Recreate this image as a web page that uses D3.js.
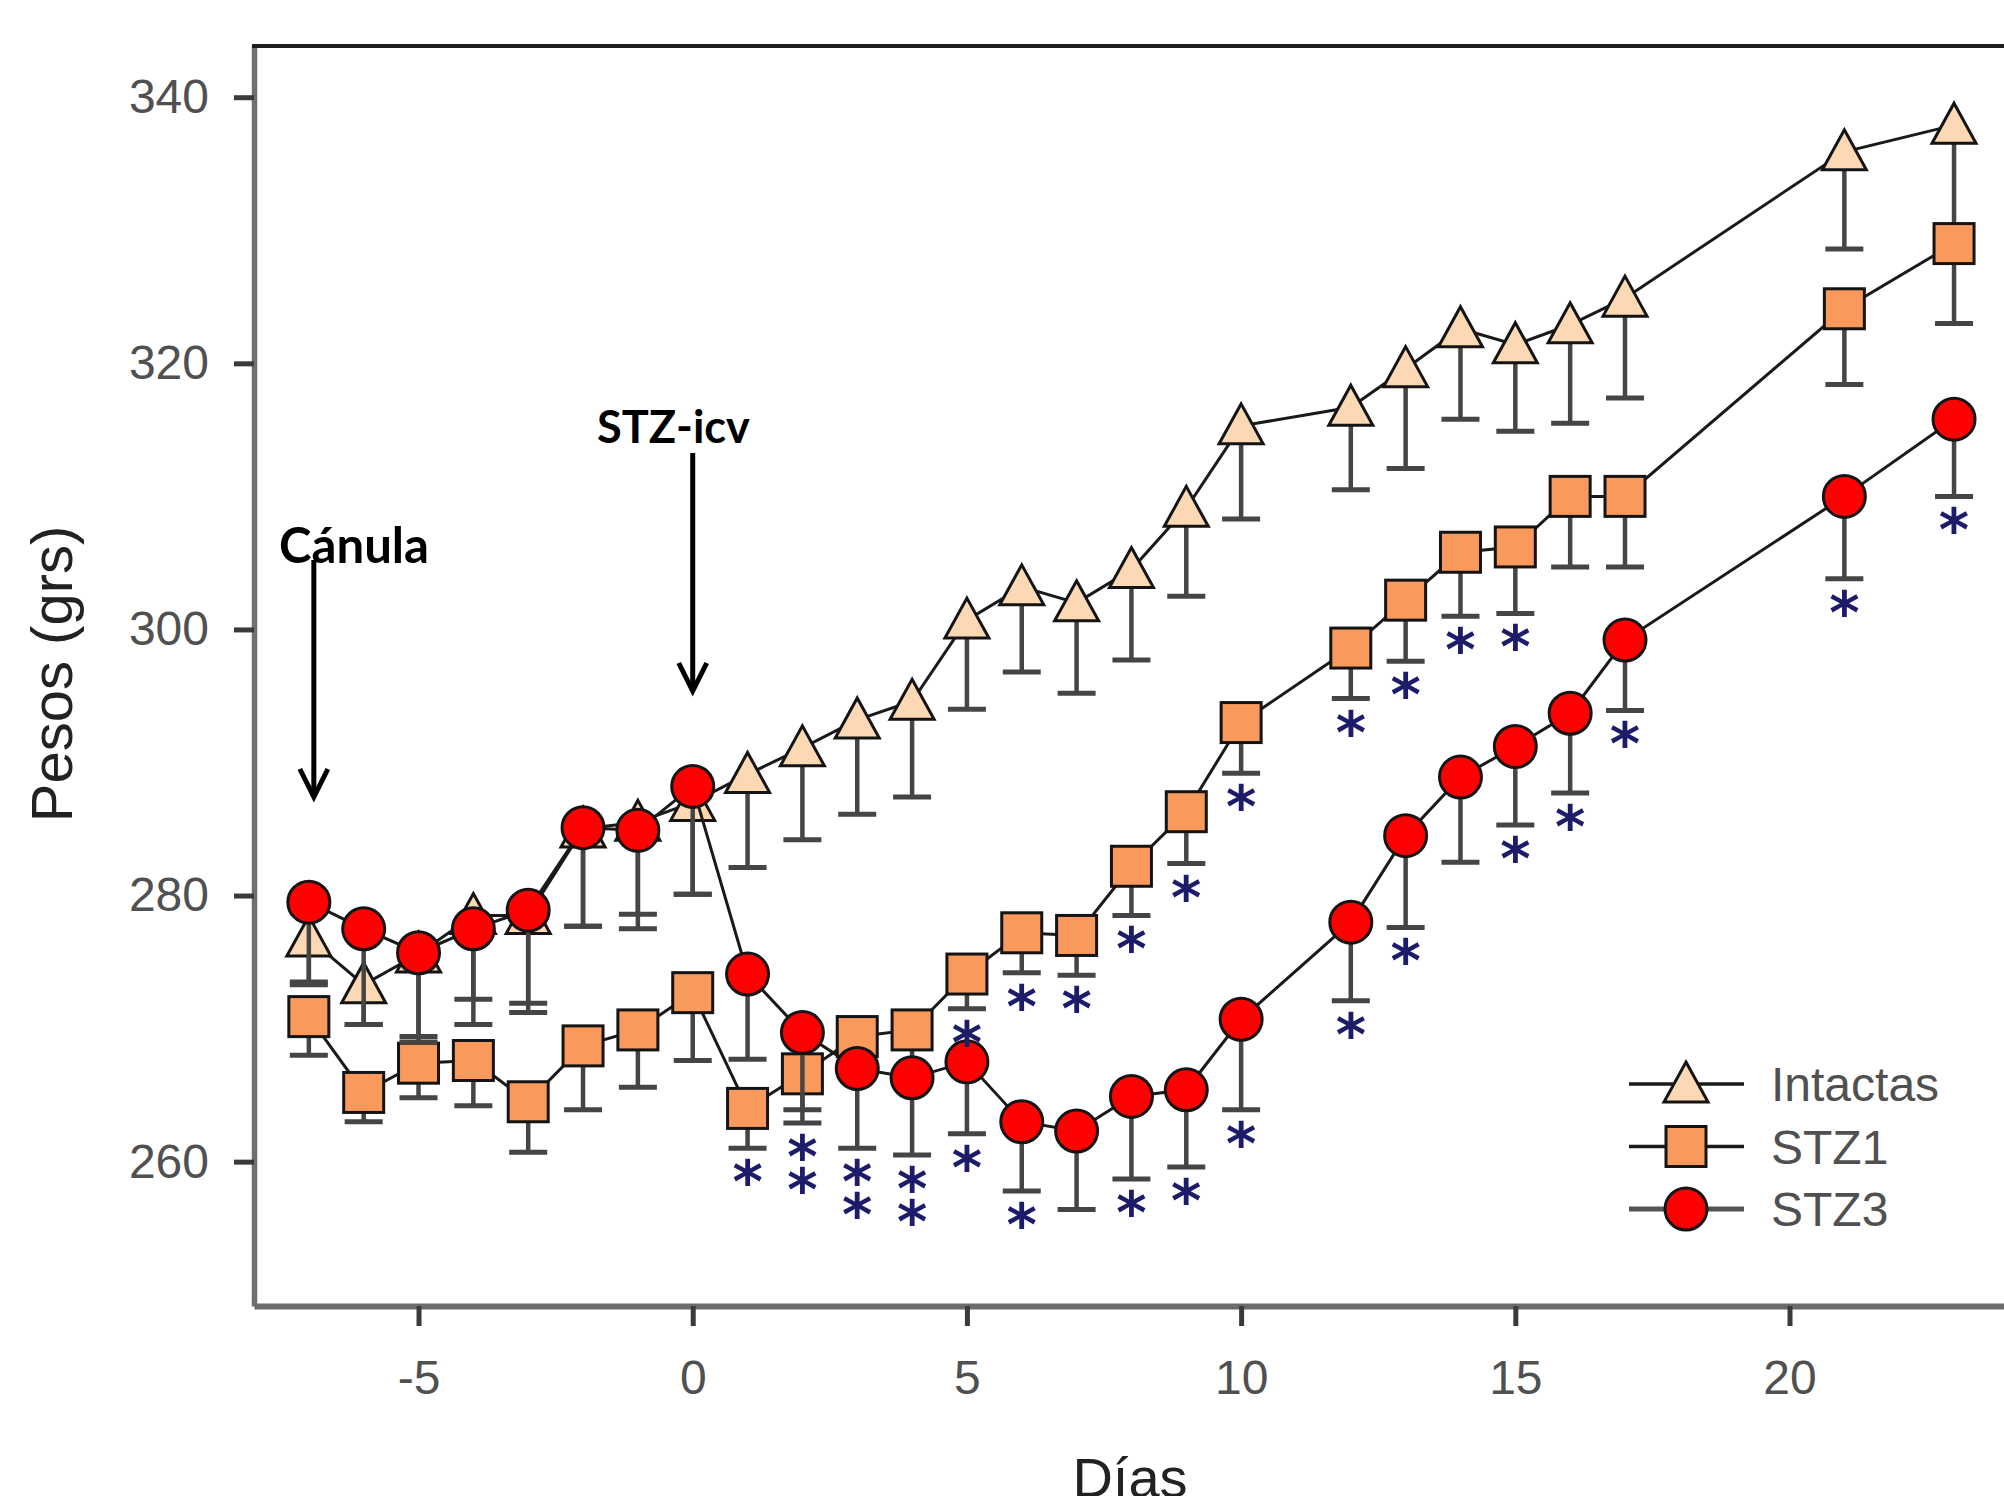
<!DOCTYPE html>
<html>
<head>
<meta charset="utf-8">
<script src="https://cdn.jsdelivr.net/npm/d3@7/dist/d3.min.js"></script>
<style>
html, body { margin:0; padding:0; background:#ffffff; overflow:hidden; }
svg { display:block; }
</style>
</head>
<body>
<svg id="chart" width="2004" height="1496" xmlns="http://www.w3.org/2000/svg"></svg>
<script>
// ---------------- data ----------------
const days = [-7,-6,-5,-4,-3,-2,-1,0,1,2,3,4,5,6,7,8,9,10,12,13,14,15,16,17,21,23];

const intactasMean = [276.8,273.3,275.6,278.5,278.5,285.0,285.5,287.0,289.1,291.1,293.2,294.6,300.7,303.2,302.0,304.5,309.1,315.3,316.7,319.6,322.6,321.4,322.9,324.9,335.9,337.9];
const intactasSE   = [3.5,3.0,6.2,8.2,7.3,7.3,8.0,6.9,7.0,6.9,7.1,7.2,6.7,6.4,6.8,6.8,6.6,7.0,6.2,7.5,6.8,6.5,7.4,7.5,7.3,7.9];

const stz1Mean = [270.9,265.2,267.4,267.6,264.5,268.7,269.9,272.7,264.0,266.6,269.4,269.9,274.1,277.2,277.0,282.2,286.3,293.0,298.6,302.2,305.8,306.2,310.0,310.0,324.1,329.0];
const stz1SE   = [2.9,2.2,2.6,3.4,3.8,4.8,4.3,5.1,3.0,2.7,2.9,3.1,2.6,3.0,3.0,3.7,3.9,3.8,3.8,4.6,4.8,5.0,5.3,5.3,5.7,6.0];

const stz3Mean = [279.5,277.5,275.7,277.5,278.9,285.1,284.9,288.2,274.1,269.7,267.0,266.3,267.5,263.0,262.3,264.9,265.4,270.7,278.0,284.5,288.9,291.2,293.7,299.2,310.0,315.8];
const stz3SE   = [6.0,7.2,6.7,5.3,7.0,7.4,6.3,8.1,6.4,6.8,6.0,5.8,5.4,5.2,5.9,6.2,5.8,6.8,5.9,6.9,6.4,5.9,6.0,5.3,6.2,5.8];

// days marked with * (significant vs Intactas)
const stz1Sig = [1,2,3,4,5,6,7,8,9,10,12,13,14,15];
const stz3Sig = [2,3,4,5,6,8,9,10,12,13,15,16,17,21,23];

const seriesNames = ["Intactas", "STZ1", "STZ3"];
const xTicks = [-5, 0, 5, 10, 15, 20];
const yTicks = [260, 280, 300, 320, 340];
const xTitle = "Días";
const yTitle = "Pesos (grs)";
const annotations = [{label:"Cánula", day:-7}, {label:"STZ-icv", day:0}];

// ---------------- setup ----------------
const svg = d3.select("#chart");
svg.append("rect").attr("width", 2004).attr("height", 1496).attr("fill", "#ffffff");

const x = d3.scaleLinear().domain([-8, 25]).range([254, 254 + 33 * 54.84]);
const y = d3.scaleLinear().domain([249.15, 343.85]).range([1306, 46]);

const numFont = "'Liberation Sans', Arial, Helvetica, sans-serif";

// ---------------- axes ----------------
const gy = svg.append("g").attr("transform", "translate(254,0)")
  .call(d3.axisLeft(y).tickValues(yTicks).tickSize(20).tickSizeOuter(0).tickPadding(25).tickFormat(d => String(d)));
gy.select(".domain").attr("stroke", "#707070").attr("stroke-width", 5.5);
gy.selectAll(".tick line").attr("stroke", "#3a3a3a").attr("stroke-width", 5);
gy.selectAll(".tick text").attr("font-family", numFont).attr("font-size", 48).attr("fill", "#505050");

const gx = svg.append("g").attr("transform", "translate(0,1306)")
  .call(d3.axisBottom(x).tickValues(xTicks).tickSize(20).tickSizeOuter(0).tickPadding(34).tickFormat(d => String(d)));
gx.select(".domain").attr("stroke", "#6b6b6b").attr("stroke-width", 6);
gx.selectAll(".tick line").attr("stroke", "#3a3a3a").attr("stroke-width", 5);
gx.selectAll(".tick text").attr("font-family", numFont).attr("font-size", 48).attr("fill", "#505050");

// top frame line
svg.append("line").attr("x1", 252).attr("x2", 2010).attr("y1", 46).attr("y2", 46)
  .attr("stroke", "#1e1e1e").attr("stroke-width", 4);

// axis titles
svg.append("text").attr("transform", "translate(72,674) rotate(-90)")
  .attr("text-anchor", "middle").attr("font-family", numFont).attr("font-size", 58)
  .attr("fill", "#222").text(yTitle);
svg.append("text").attr("x", 1130).attr("y", 1497).attr("text-anchor", "middle")
  .attr("font-family", numFont).attr("font-size", 56).attr("fill", "#222").text(xTitle);

// ---------------- series ----------------
const series = [
  {name: seriesNames[0], mean: intactasMean, se: intactasSE, shape: "triangle", fill: "#FCD8B4"},
  {name: seriesNames[1], mean: stz1Mean,     se: stz1SE,     shape: "square",   fill: "#F99A5C"},
  {name: seriesNames[2], mean: stz3Mean,     se: stz3SE,     shape: "circle",   fill: "#FF0000"}
];

function marker(g, shape, fill, cx, cy) {
  let m;
  if (shape === "circle") {
    m = g.append("circle").attr("cx", cx).attr("cy", cy).attr("r", 21);
  } else if (shape === "square") {
    m = g.append("rect").attr("x", cx - 20).attr("y", cy - 20).attr("width", 40).attr("height", 40);
  } else {
    m = g.append("path").attr("d", `M${cx},${cy - 22}L${cx + 22},${cy + 18}L${cx - 22},${cy + 18}Z`);
  }
  m.attr("fill", fill).attr("stroke", "#141414").attr("stroke-width", 3).attr("stroke-linejoin", "miter");
  return m;
}

const line = d3.line().x(d => x(d.day)).y(d => y(d.mean));

series.forEach(s => {
  const pts = days.map((d, i) => ({day: d, mean: s.mean[i], se: s.se[i]}));
  const g = svg.append("g").attr("class", "series-" + s.name);
  g.append("path").datum(pts).attr("d", line).attr("fill", "none")
    .attr("stroke", "#1a1a1a").attr("stroke-width", 3);
  const eb = g.append("g");
  pts.forEach(p => {
    const cx = x(p.day), y0 = y(p.mean), y1 = y(p.mean - p.se);
    eb.append("line").attr("x1", cx).attr("x2", cx).attr("y1", y0).attr("y2", y1)
      .attr("stroke", "#454545").attr("stroke-width", 4.5);
    eb.append("line").attr("x1", cx - 19).attr("x2", cx + 19).attr("y1", y1).attr("y2", y1)
      .attr("stroke", "#454545").attr("stroke-width", 5);
  });
  const mk = g.append("g");
  pts.forEach(p => marker(mk, s.shape, s.fill, x(p.day), y(p.mean)));
});

// ---------------- significance asterisks ----------------
const sigSets = [
  {mean: stz1Mean, se: stz1SE, days: stz1Sig},
  {mean: stz3Mean, se: stz3SE, days: stz3Sig}
];
const sigDays = Array.from(new Set([...stz1Sig, ...stz3Sig])).sort((a, b) => a - b);
const starG = svg.append("g");
const starOff = 22, starGap = 33, starFont = 58;
function star(cx, cy, n) {
  const t = starG.append("text").attr("text-anchor", "middle")
    .attr("font-family", "'DejaVu Sans', sans-serif").attr("font-weight", "bold")
    .attr("font-size", starFont).attr("fill", "#1c1c6a");
  for (let k = 0; k < n; k++) {
    t.append("tspan").attr("x", cx).attr("y", cy + 0.55 * starFont + k * starGap).text("*");
  }
}
sigDays.forEach(d => {
  const i = days.indexOf(d);
  const caps = sigSets.filter(s => s.days.includes(d)).map(s => y(s.mean[i] - s.se[i]));
  const cx = x(d);
  if (caps.length === 2 && Math.abs(caps[0] - caps[1]) < 100) {
    star(cx, Math.max(...caps) + starOff, 2);
  } else {
    caps.forEach(c => star(cx, c + starOff, 1));
  }
});

// ---------------- annotations (arrows) ----------------
const annFont = "Lato, 'Open Sans', 'Noto Sans', sans-serif";
const annSpec = [
  {textX: 279, baseY: 563, width: 150, arrowTop: 560, arrowTip: 797, dx: 5},
  {textX: 597, baseY: 443, width: 153, arrowTop: 453, arrowTip: 691, dx: 0}
];
annotations.forEach((a, k) => {
  const sp = annSpec[k];
  const t = svg.append("text").attr("x", sp.textX).attr("y", sp.baseY)
    .attr("font-family", annFont).attr("font-weight", "bold").attr("font-size", 48)
    .attr("fill", "#000").text(a.label);
  const w = t.node().getComputedTextLength();
  if (w > 0) t.attr("font-size", 48 * sp.width / w);
  const ax = x(a.day) + sp.dx;
  svg.append("line").attr("x1", ax).attr("x2", ax).attr("y1", sp.arrowTop).attr("y2", sp.arrowTip - 2)
    .attr("stroke", "#000").attr("stroke-width", 5);
  svg.append("path").attr("d", `M${ax - 14},${sp.arrowTip - 28}L${ax},${sp.arrowTip}L${ax + 14},${sp.arrowTip - 28}`)
    .attr("fill", "none").attr("stroke", "#000").attr("stroke-width", 5).attr("stroke-linejoin", "miter");
});

// ---------------- legend ----------------
const lg = svg.append("g");
series.forEach((s, i) => {
  const ry = 1084 + i * 62.5;
  lg.append("line").attr("x1", 1629).attr("x2", 1744).attr("y1", ry).attr("y2", ry)
    .attr("stroke", i === 2 ? "#555" : "#1a1a1a").attr("stroke-width", i === 2 ? 5 : 3.5);
  marker(lg, s.shape, s.fill, 1686, ry);
  lg.append("text").attr("x", 1771).attr("y", ry + 17)
    .attr("font-family", numFont).attr("font-size", 48).attr("fill", "#505050").text(s.name);
});
</script>
</body>
</html>
